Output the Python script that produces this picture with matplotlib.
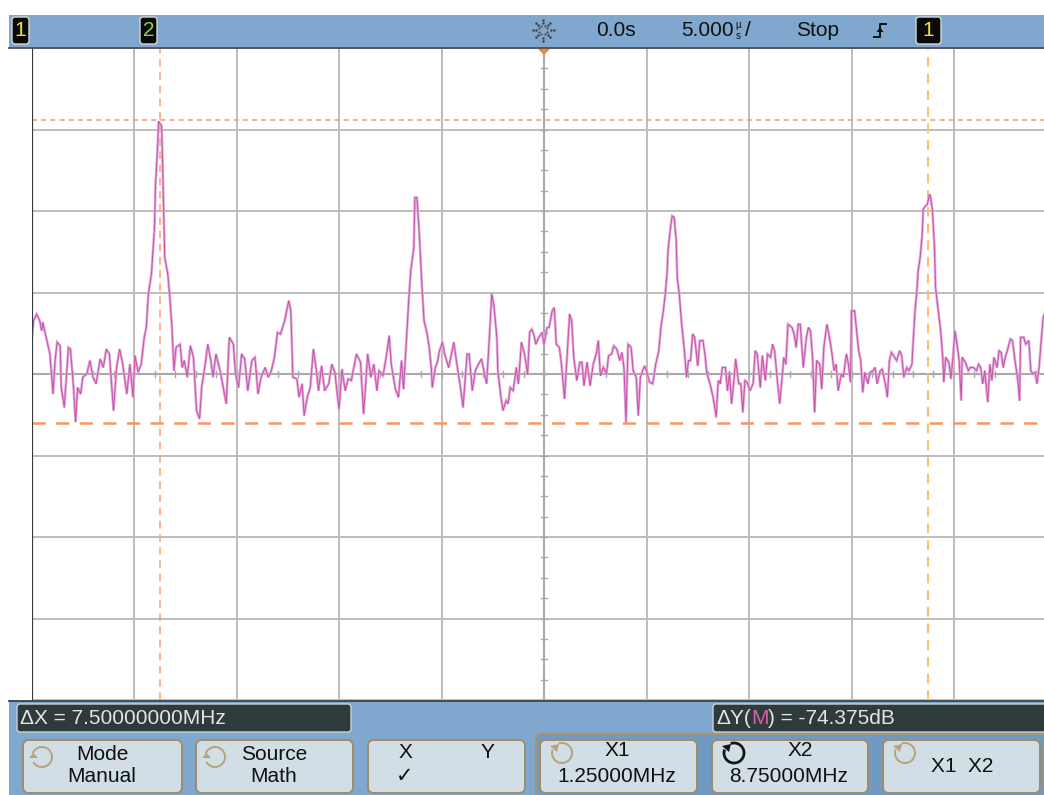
import matplotlib
matplotlib.use('Agg')
import matplotlib.pyplot as plt
from matplotlib.patches import FancyBboxPatch, Rectangle, Polygon, Arc
import numpy as np

plt.rcParams['font.family'] = ['Liberation Sans', 'DejaVu Sans']
plt.rcParams['lines.scale_dashes'] = False

# ---------------- data (FFT trace, MHz / dB) ----------------
freq_mhz = [
    0.00, 0.02, 0.05, 0.08, 0.10, 0.11, 0.15, 0.18, 0.21, 0.23, 0.25, 0.28, 0.29, 0.32, 0.36, 0.38, 0.41, 0.43, 0.45, 0.48,
    0.50, 0.54, 0.57, 0.60, 0.63, 0.67, 0.70, 0.73, 0.76, 0.80, 0.83, 0.86, 0.89, 0.93, 0.96, 0.99, 1.01, 1.04, 1.07, 1.10,
    1.12, 1.14, 1.17, 1.20, 1.21, 1.23, 1.24, 1.27, 1.28, 1.30, 1.33, 1.35, 1.37, 1.39, 1.41, 1.45, 1.47, 1.49, 1.52, 1.55,
    1.58, 1.61, 1.64, 1.66, 1.69, 1.72, 1.75, 1.77, 1.80, 1.84, 1.87, 1.90, 1.93, 1.97, 1.99, 2.02, 2.05, 2.08, 2.11, 2.15,
    2.18, 2.21, 2.24, 2.28, 2.31, 2.34, 2.37, 2.40, 2.43,
    2.47, 2.51, 2.53, 2.55, 2.59, 2.61, 2.64, 2.66, 2.69, 2.72, 2.75, 2.78, 2.80, 2.83, 2.86, 2.90, 2.93, 2.96, 3.00, 3.03,
    3.06, 3.09, 3.12, 3.17, 3.21, 3.24, 3.28, 3.31, 3.34, 3.37, 3.39, 3.43, 3.46, 3.49, 3.51, 3.55, 3.58, 3.61, 3.63, 3.65,
    3.68, 3.70, 3.73, 3.74, 3.76, 3.78, 3.81, 3.83, 3.86, 3.88, 3.90, 3.91, 3.94, 3.96, 3.98, 4.01, 4.03, 4.07, 4.10, 4.12,
    4.15, 4.18, 4.21, 4.23, 4.25, 4.27, 4.30, 4.33, 4.36, 4.39, 4.42, 4.44, 4.47, 4.49, 4.51, 4.54, 4.55, 4.58, 4.60, 4.63,
    4.65, 4.67, 4.70, 4.73, 4.75, 4.78, 4.81, 4.84, 4.86,
    4.88, 4.90, 4.92, 4.95, 4.98, 5.00, 5.03, 5.05, 5.08, 5.10, 5.12, 5.15, 5.17, 5.20, 5.22, 5.25, 5.27, 5.29, 5.32, 5.35,
    5.37, 5.39, 5.42, 5.45, 5.48, 5.51, 5.53, 5.55, 5.58, 5.61, 5.63, 5.66, 5.68, 5.71, 5.74, 5.76, 5.78, 5.80, 5.82, 5.85,
    5.87, 5.90, 5.92, 5.94, 5.98, 6.00, 6.03, 6.06, 6.09, 6.12, 6.14, 6.16, 6.18, 6.20, 6.21, 6.23, 6.25, 6.27, 6.29, 6.30,
    6.32, 6.34, 6.37, 6.39, 6.41, 6.43, 6.45, 6.47, 6.50, 6.52, 6.55, 6.57, 6.59, 6.62, 6.65, 6.68, 6.70, 6.72, 6.74, 6.77,
    6.79, 6.81, 6.83, 6.85, 6.87, 6.90, 6.92, 6.94, 6.96, 6.98, 7.01, 7.04, 7.06, 7.08, 7.11, 7.13, 7.16, 7.18, 7.21, 7.23,
    7.25, 7.28, 7.30,
    7.34, 7.36, 7.38, 7.42, 7.44, 7.46, 7.48, 7.50, 7.53, 7.56, 7.58, 7.60, 7.62, 7.64, 7.66, 7.69, 7.71, 7.73, 7.76, 7.78,
    7.81, 7.83, 7.85, 7.87, 7.90, 7.92, 7.95, 7.97, 7.99, 8.00, 8.03, 8.04, 8.07, 8.09, 8.11, 8.13, 8.16, 8.18, 8.21, 8.23,
    8.25, 8.28, 8.30, 8.33, 8.35, 8.37, 8.39, 8.42, 8.44, 8.47, 8.49, 8.51, 8.54, 8.56, 8.59, 8.60, 8.62, 8.64, 8.65, 8.67,
    8.69, 8.70, 8.72, 8.74, 8.76, 8.77, 8.79, 8.81, 8.82, 8.85, 8.87, 8.89, 8.90, 8.92, 8.95, 8.97, 8.99, 9.01, 9.03, 9.05,
    9.07, 9.08, 9.11, 9.14, 9.16, 9.19, 9.22, 9.24, 9.26, 9.28, 9.30, 9.33, 9.35, 9.37, 9.39, 9.42, 9.44, 9.46, 9.48, 9.50,
    9.52, 9.55, 9.57, 9.60, 9.62, 9.64, 9.65, 9.68, 9.70, 9.73, 9.75, 9.77, 9.79, 9.81, 9.83, 9.86, 9.87, 9.90,
]
level_db = [
    -72.0, -67.0, -65.3, -66.9, -69.4, -67.3, -71.8, -75.1, -84.9, -76.7, -72.2, -73.1, -83.3, -88.2, -73.5, -73.9, -83.3, -91.8, -83.3, -84.9,
    -80.8, -80.0, -76.7, -80.8, -82.4, -76.3, -78.4, -73.9, -75.1, -89.0, -78.4, -73.9, -77.6, -84.9, -77.6, -85.7, -75.5, -79.6, -77.6, -71.0,
    -68.6, -60.4, -55.5, -44.1, -33.5, -24.5, -18.0, -19.2, -29.4, -51.4, -55.5, -61.2, -68.6, -79.2, -73.5, -72.7, -78.4, -76.7, -80.8, -73.1,
    -75.9, -89.0, -91.0, -83.3, -78.4, -72.7, -76.7, -80.8, -75.1, -79.2, -83.3, -87.3, -71.0, -72.7, -80.0, -83.3, -75.1, -76.3, -84.1, -76.7,
    -75.9, -84.9, -80.8, -78.4, -80.8, -79.2, -75.9, -69.8, -70.2,
    -66.9, -62.0, -64.5, -80.8, -81.2, -85.7, -82.4, -90.2, -85.7, -83.3, -73.9, -79.2, -84.1, -78.0, -84.1, -82.4, -77.6, -79.6, -88.6, -78.8,
    -84.1, -81.2, -81.6, -75.1, -77.1, -89.8, -75.1, -80.8, -77.6, -84.1, -79.2, -80.4, -75.9, -70.6, -77.6, -83.7, -85.7, -76.7, -83.7, -75.1,
    -62.0, -54.7, -49.0, -36.7, -36.7, -44.1, -58.8, -66.9, -70.2, -73.5, -78.4, -83.3, -78.4, -77.1, -74.3, -72.2, -75.1, -78.4, -74.7, -72.2,
    -77.6, -82.4, -88.2, -81.6, -75.1, -75.1, -84.1, -79.2, -77.6, -76.3, -80.0, -82.4, -69.8, -60.4, -62.9, -71.0, -79.2, -85.7, -89.0, -86.5,
    -87.3, -83.3, -84.1, -78.4, -82.4, -72.2, -75.1, -80.0, -69.8,
    -69.0, -70.2, -72.7, -71.0, -69.8, -72.7, -68.6, -68.6, -64.5, -63.7, -72.7, -73.5, -77.6, -86.1, -77.6, -65.3, -66.9, -75.9, -81.6, -77.1,
    -77.1, -82.9, -77.1, -82.9, -77.6, -75.1, -71.8, -80.4, -78.4, -80.0, -75.5, -75.1, -73.1, -73.9, -76.7, -74.7, -78.4, -91.8, -72.7, -73.5,
    -79.2, -80.8, -90.2, -80.8, -78.0, -79.2, -82.0, -82.4, -77.6, -74.3, -68.6, -65.3, -61.2, -55.5, -49.8, -44.9, -41.2, -41.6, -47.3, -56.3,
    -60.4, -66.9, -74.3, -80.8, -76.7, -76.7, -70.2, -71.0, -78.0, -71.8, -71.8, -75.1, -80.0, -82.4, -85.7, -90.6, -81.6, -82.4, -78.4, -78.4,
    -84.1, -79.6, -87.3, -82.4, -76.3, -82.4, -82.4, -89.4, -81.6, -82.0, -84.1, -82.4, -74.3, -75.1, -83.3, -75.5, -81.6, -75.1, -75.9, -72.7,
    -74.3, -82.4, -87.3,
    -75.9, -77.6, -67.8, -68.6, -70.2, -73.5, -67.8, -67.8, -78.4, -71.0, -68.6, -69.4, -75.9, -89.4, -76.7, -77.6, -83.7, -73.5, -67.8, -70.2,
    -75.1, -79.2, -77.6, -84.1, -80.0, -80.8, -75.1, -77.6, -82.0, -64.5, -64.5, -66.9, -74.3, -76.7, -84.5, -79.6, -82.4, -79.6, -79.2, -78.4,
    -82.4, -79.2, -78.8, -82.4, -85.7, -76.7, -74.7, -75.9, -76.7, -74.3, -75.5, -80.8, -78.4, -79.2, -77.6, -72.7, -64.5, -58.8, -54.7, -51.4,
    -45.7, -39.6, -38.8, -38.4, -35.9, -36.3, -40.0, -49.0, -58.8, -65.3, -69.4, -75.9, -82.0, -75.9, -77.1, -81.2, -75.9, -69.4, -72.7, -76.7,
    -86.5, -75.9, -77.1, -79.2, -78.4, -78.4, -79.2, -77.6, -78.4, -82.4, -79.2, -86.9, -77.6, -81.6, -75.9, -78.4, -74.3, -74.7, -78.4, -75.9,
    -74.3, -71.4, -71.8, -77.6, -80.8, -86.5, -71.0, -71.0, -72.7, -71.8, -79.2, -80.0, -79.6, -82.4, -78.4, -69.4, -66.1, -64.0,
]

x_cursors_mhz = [1.25, 8.75]          # X1, X2
y_cursor_upper_db = -17.6
delta_y_db = -74.375
y_cursor_lower_db = y_cursor_upper_db + delta_y_db

span_mhz = (0, 10)
range_db = (-160, 0)
center_db = -80
center_mhz = 5

top_labels = ['0.0s', '5.000', 'Stop']
dx_text = '\u0394X = 7.50000000MHz'
button_labels = [('Mode', 'Manual'), ('Source', 'Math'), ('X1', '1.25000MHz'), ('X2', '8.75000MHz')]

# ---------------- figure ----------------
W, H = 1044, 795
fig = plt.figure(figsize=(W / 100, H / 100), dpi=100)
fig.patch.set_facecolor('white')

def px(x0, y_top, w, h):
    return [x0 / W, (H - y_top - h) / H, w / W, h / H]

ax = fig.add_axes(px(31.5, 48, 1025, 652))
ax.set_xlim(*span_mhz)
ax.set_ylim(*range_db)
ax.set_facecolor('white')
for s in ax.spines.values():
    s.set_visible(False)
ax.set_xticks(np.arange(span_mhz[0], span_mhz[1] + 1, 1))
ax.set_yticks(np.arange(range_db[0], range_db[1] + 1, 20))
ax.tick_params(length=0, labelbottom=False, labelleft=False)
ax.grid(True, color='#bdbdbd', lw=1.4, zorder=0)
ax.set_axisbelow(True)

# center cross with minor ticks
ax.axhline(center_db, color='#a9a9a9', lw=1.5, zorder=1)
ax.axvline(center_mhz, color='#a9a9a9', lw=1.5, zorder=1)
for f in np.arange(0.2, 10, 0.2):
    ax.plot([f, f], [center_db - 0.8, center_db + 0.8], color='#a9a9a9', lw=1.0, zorder=1)
for d in np.arange(range_db[0] + 5, range_db[1], 5):
    ax.plot([center_mhz - 0.03, center_mhz + 0.03], [d, d], color='#a9a9a9', lw=1.0, zorder=1)

# left border
ax.axvline(0, color='#3a3a3a', lw=1.6, zorder=4)

# trace
ax.plot(freq_mhz, level_db, color='#e4aada', lw=1.9, zorder=3, solid_joinstyle='miter')
ax.plot(freq_mhz, level_db, color='#c653aa', lw=0.7, zorder=3)

# cursors
ax.axhline(y_cursor_upper_db, color='#f5a074', lw=1.2, dashes=(3.6, 3.0), zorder=2)
ax.axhline(y_cursor_lower_db, color='#f5985e', lw=1.8, dashes=(9.5, 7.5), zorder=2)
ax.axvline(x_cursors_mhz[0], color='#f5a074', lw=1.1, dashes=(5.5, 4.0), zorder=2)
ax.axvline(x_cursors_mhz[1], color='#f9c26c', lw=1.5, dashes=(7.0, 5.0), zorder=2)

# ---------------- UI overlay ----------------
ui = fig.add_axes([0, 0, 1, 1], zorder=5)
ui.set_xlim(0, W)
ui.set_ylim(H, 0)
ui.axis('off')
ui.patch.set_alpha(0)

BLUE = '#80a7cd'
ui.add_patch(Rectangle((9, 15), W - 9, 33, fc=BLUE, ec='none'))
ui.plot([9, W], [47.5, 47.5], color='#505050', lw=1.3)
ui.add_patch(Rectangle((9, 701), W - 9, H - 701, fc=BLUE, ec='none'))
ui.plot([9, W], [701, 701], color='#404040', lw=1.3)

def badge(x, w, txt, col):
    ui.add_patch(FancyBboxPatch((x, 17), w, 27, boxstyle='round,pad=0,rounding_size=3',
                                fc='#0a0a0a', ec='#d8d8d0', lw=1.0))
    ui.text(x + w / 2, 31, txt, color=col, fontsize=15, ha='center', va='center')

badge(12, 17, '1', '#ece23c')
badge(140, 17, '2', '#98d040')
badge(916, 25, '1', '#ece23c')

# sun icon (dotted)
cx, cy = 543, 30
for a in np.deg2rad(np.arange(0, 360, 45)):
    for r in (7.5, 10.5):
        ui.plot(cx + r * np.cos(a), cy + r * np.sin(a), 's', ms=1.6, color='#303030', mec='none')
for a in np.deg2rad(np.arange(0, 360, 45) + 22.5):
    ui.plot(cx + 4 * np.cos(a), cy + 4 * np.sin(a), 's', ms=1.3, color='#404040', mec='none')

ui.text(616, 31, top_labels[0], fontsize=15, ha='center', va='center', color='#101010')
ui.text(681, 31, top_labels[1], fontsize=15, ha='left', va='center', color='#101010')
ui.text(738, 25, '\u00b5', fontsize=7, ha='center', va='center', color='#101010')
ui.text(738, 36, 's', fontsize=7, ha='center', va='center', color='#101010')
ui.text(745, 31, '/', fontsize=15, ha='left', va='center', color='#101010')
ui.text(818, 31, top_labels[2], fontsize=15, ha='center', va='center', color='#101010')
# trigger edge symbol
ui.plot([874, 880, 880, 886], [37, 37, 24, 24], color='#101010', lw=1.4)
ui.add_patch(Polygon([(876.5, 32), (883.5, 32), (880, 27)], fc='#101010', ec='none'))

# trigger position marker
ui.add_patch(Polygon([(537, 48), (551, 48), (544, 55)], fc='#f08a30', ec='none'))

# measurement boxes
ui.add_patch(FancyBboxPatch((17, 704), 334, 28, boxstyle='round,pad=0,rounding_size=3',
                            fc='#2f3b3b', ec='#c8d2da', lw=1.0))
ui.text(20, 718.5, dx_text, color='#e4e4e4', fontsize=15, ha='left', va='center')
ui.add_patch(FancyBboxPatch((713, 704), 340, 28, boxstyle='round,pad=0,rounding_size=3',
                            fc='#2f3b3b', ec='#c8d2da', lw=1.0))
t1 = ui.text(716, 718.5, '\u0394Y(', color='#e4e4e4', fontsize=15, ha='left', va='center')
t2 = ui.annotate('M', xy=(1, 0), xycoords=t1, color='#d060b0', fontsize=15, ha='left', va='bottom')
t3 = ui.annotate(') = %.3fdB' % delta_y_db, xy=(1, 0), xycoords=t2, color='#e4e4e4', fontsize=15,
                 ha='left', va='bottom')

# button group frame
ui.add_patch(FancyBboxPatch((536, 734), 520, 70, boxstyle='round,pad=0,rounding_size=6',
                            fc='#7099c3', ec='#a8956a', lw=1.5))

BTN_FC = '#d2dee6'
BTN_EC = '#a08c66'
def button(x0, x1):
    ui.add_patch(FancyBboxPatch((x0, 740), x1 - x0, 53, boxstyle='round,pad=0,rounding_size=6',
                                fc=BTN_FC, ec=BTN_EC, lw=1.4))

def knob(cx, cy, col, lw=1.4, kind='loop'):
    if kind == 'loop':
        ui.add_patch(Arc((cx, cy), 20, 20, theta1=-160, theta2=150, color=col, lw=lw))
        ui.add_patch(Polygon([(cx - 13, cy + 1), (cx - 4, cy + 1), (cx - 8.5, cy - 4)], fc=col, ec='none'))
    else:
        ui.add_patch(Arc((cx, cy), 20, 20, theta1=-110, theta2=200, color=col, lw=lw))
        ui.add_patch(Polygon([(cx - 12, cy - 7), (cx - 5, cy - 1), (cx - 3, cy - 9)], fc=col, ec='none'))

for (x0, x1) in [(23, 182), (196, 353), (368, 525), (540, 697), (712, 868), (883, 1040)]:
    button(x0, x1)

TAN = '#b8a27a'
knob(42, 757, TAN)
knob(215, 757, TAN)
knob(562, 753, TAN, kind='arc')
knob(734, 753, '#151515', lw=2.0, kind='arc')
knob(905, 753, TAN, kind='arc')

fs = 15
ui.text(102, 754, button_labels[0][0], fontsize=fs, ha='center', va='center', color='#101010')
ui.text(102, 777, button_labels[0][1], fontsize=fs, ha='center', va='center', color='#101010')
ui.text(274, 754, button_labels[1][0], fontsize=fs, ha='center', va='center', color='#101010')
ui.text(274, 777, button_labels[1][1], fontsize=fs, ha='center', va='center', color='#101010')
ui.text(405, 752, 'X', fontsize=fs, ha='center', va='center', color='#101010')
ui.text(487, 752, 'Y', fontsize=fs, ha='center', va='center', color='#101010')
ui.text(405, 777, '\u2713', fontsize=fs, ha='center', va='center', color='#101010')
ui.text(617, 751, button_labels[2][0], fontsize=fs, ha='center', va='center', color='#101010')
ui.text(617, 776, button_labels[2][1], fontsize=fs, ha='center', va='center', color='#101010')
ui.text(800, 751, button_labels[3][0], fontsize=fs, ha='center', va='center', color='#101010')
ui.text(789, 776, button_labels[3][1], fontsize=fs, ha='center', va='center', color='#101010')
ui.text(962, 766, 'X1  X2', fontsize=fs, ha='center', va='center', color='#101010')

fig.savefig('out.png', dpi=100, facecolor='white')
